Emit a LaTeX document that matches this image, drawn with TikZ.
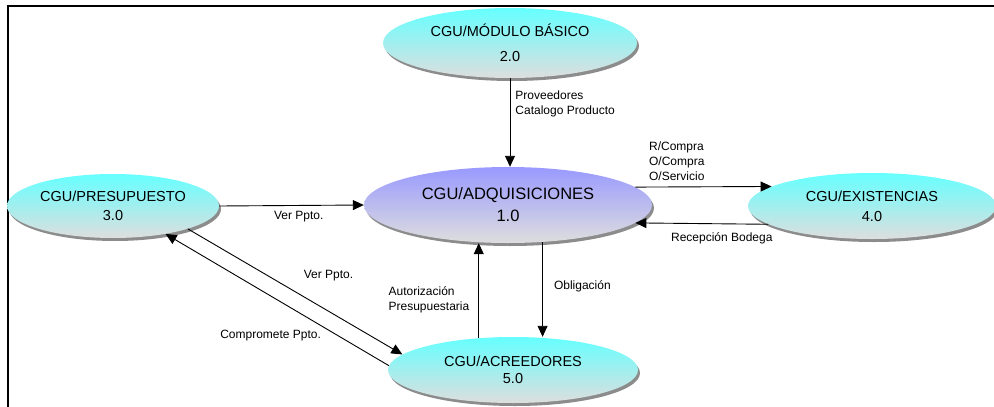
\documentclass[tikz,border=0pt]{standalone}
\usepackage{fontspec}
\setmainfont{Liberation Sans}
\usetikzlibrary{shapes.geometric,arrows.meta,shadows}

\begin{document}
\begin{tikzpicture}[
	x=1pt, y=-1pt,
	>={Triangle[length=11pt,width=10pt]},
	procnode/.style={ellipse, inner sep=0pt, draw=none, align=center,
		top color=cyan!60, bottom color=black!13,
		drop shadow={shadow xshift=2pt, shadow yshift=-3pt, fill=black!45, opacity=1},
		font=\fontsize{14.5}{16}\selectfont},
	mainnode/.style={procnode, top color=blue!40, font=\fontsize{16.5}{19}\selectfont},
	flowlabel/.style={font=\fontsize{12}{15}\selectfont, inner sep=1pt, align=left},
	flow/.style={->, line width=0.9pt},
	]
	\useasboundingbox (0,0) rectangle (994,407);
	\draw[line width=2pt] (8,407) -- (8,6) -- (994,6);

	%Nodes
	\node[procnode, minimum width=254pt, minimum height=70pt] (mod) at (510,43)  {CGU/MÓDULO BÁSICO\\[9pt]2.0};
	\node[mainnode, minimum width=288pt, minimum height=76pt] (adq) at (508,205) {CGU/ADQUISICIONES\\[3pt]1.0};
	\node[procnode, minimum width=212pt, minimum height=64pt] (pre) at (113,206) {CGU/PRESUPUESTO\\[2.5pt]3.0};
	\node[procnode, minimum width=248pt, minimum height=66pt] (exi) at (872,206) {CGU/EXISTENCIAS\\[4pt]4.0};
	\node[procnode, minimum width=250pt, minimum height=66pt] (acr) at (513,370) {CGU/ACREEDORES\\[1pt]5.0};

	%Lines
	\draw[flow] (mod.south) -- node[flowlabel, anchor=north west, pos=0.13, xshift=4pt]{Proveedores\\Catalogo Producto} (mod.south |- adq.north);
	\draw[flow] (adq.8) -- node[flowlabel, anchor=south west, pos=0.09, yshift=5pt]{R/Compra\\O/Compra\\O/Servicio} (exi.169);
	\draw[flow] (exi.190) -- node[flowlabel, below, pos=0.35, yshift=-7pt]{Recepción Bodega} (adq.-8);
	\draw[flow] (pre.east) -- node[flowlabel, below, pos=0.55, yshift=-4pt]{Ver Ppto.} (adq.west);
	\draw[flow] (pre.-17) -- node[flowlabel, anchor=south west, pos=0.45, xshift=18pt, yshift=3pt]{Ver Ppto.} (acr.172);
	\draw[flow] (acr.178) -- node[flowlabel, anchor=north east, pos=0.32, xshift=5pt, yshift=-5pt]{Compromete Ppto.} (pre.-28);
	\draw[flow] (acr.137) -- node[flowlabel, anchor=east, pos=0.4, xshift=-8pt]{Autorización\\Presupuestaria} (acr.137 |- adq.south);
	\draw[flow] (adq.-47) -- node[flowlabel, anchor=west, pos=0.47, xshift=10pt]{Obligación} (adq.-47 |- acr.north);
\end{tikzpicture}
\end{document}
